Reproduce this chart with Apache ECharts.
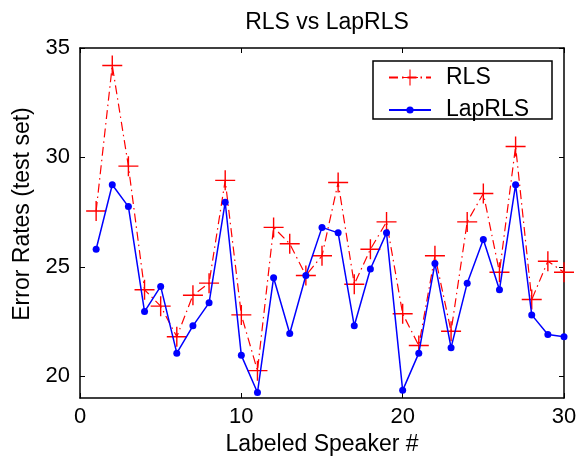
<!DOCTYPE html>
<html><head><meta charset="utf-8">
<script src="https://cdn.jsdelivr.net/npm/echarts@6/dist/echarts.min.js"></script>
<style>html,body{margin:0;padding:0;background:#fff}#c{width:581px;height:461px}</style>
</head><body><div id="c"></div>
<script>
const speakers = [1,2,3,4,5,6,7,8,9,10,11,12,13,14,15,16,17,18,19,20,21,22,23,24,25,26,27,28,29,30];
const rls = [27.55,34.2,29.6,23.95,23.2,21.8,23.7,24.25,28.95,22.8,20.25,26.8,26.05,24.6,25.5,28.85,24.2,25.8,27.05,22.85,21.4,25.5,22.05,27.05,28.35,24.75,30.5,23.5,25.25,24.75];
const laprls = [25.8,28.75,27.75,22.95,24.1,21.05,22.3,23.35,27.95,20.95,19.25,24.5,21.95,24.6,26.8,26.55,22.3,24.9,26.55,19.35,21.05,25.15,21.3,24.25,26.25,23.95,28.75,22.8,21.9,21.8];
const xTicks = [0,10,20,30];
const yTicks = [20,25,30,35];

const font = 'Liberation Sans, Arial, Helvetica, sans-serif';
const plus = 'path://M0,9.3L20,9.3L20,10.7L0,10.7Z M9.3,0L10.7,0L10.7,20L9.3,20Z';
const chart = echarts.init(document.getElementById('c'), null, {renderer:'canvas'});
const axLine = {show:true,onZero:false,lineStyle:{color:'#000',width:1.5}};
const tick = {show:true,inside:true,length:5,lineStyle:{color:'#000',width:1}};
chart.setOption({
  animation:false,
  backgroundColor:'#fff',
  title:{text:'RLS vs LapRLS',left:322,textAlign:'center',top:6,
    textStyle:{fontFamily:font,fontSize:23,fontWeight:'normal',color:'#000'}},
  grid:{left:80,right:17,top:48,bottom:63},
  graphic:[{type:'rect',z:100,shape:{x:373,y:61,width:179,height:58},
    style:{fill:'#fff',stroke:'#000',lineWidth:1.5}}],
  legend:[
    {data:['RLS'],left:388,top:66,itemWidth:42,itemHeight:20,padding:0,z:110,
      textStyle:{fontFamily:font,fontSize:23,color:'#000',padding:[0,0,0,10]}},
    {data:['LapRLS'],left:388,top:98.5,itemWidth:42,itemHeight:9,padding:0,z:110,
      textStyle:{fontFamily:font,fontSize:23,color:'#000',padding:[0,0,0,10]}}
  ],
  xAxis:[
    {type:'value',min:0,max:30,interval:10,position:'bottom',
      name:'Labeled Speaker #',nameLocation:'middle',nameGap:35,
      nameTextStyle:{fontFamily:font,fontSize:23,color:'#000'},
      axisLine:axLine,axisTick:tick,splitLine:{show:false},
      axisLabel:{fontFamily:font,fontSize:22,color:'#000',margin:8}},
    {type:'value',min:0,max:30,interval:10,position:'top',
      axisLine:axLine,axisTick:tick,splitLine:{show:false},axisLabel:{show:false}}
  ],
  yAxis:[
    {type:'value',min:19,max:35,position:'left',
      name:'Error Rates (test set)',nameLocation:'middle',nameGap:43,
      nameTextStyle:{fontFamily:font,fontSize:23,color:'#000',padding:[0,0,0,18]},
      axisLine:axLine,splitLine:{show:false},
      axisTick:{show:true,inside:true,length:5,lineStyle:{color:'#000'},customValues:yTicks},
      axisLabel:{fontFamily:font,fontSize:22,color:'#000',margin:10,customValues:yTicks}},
    {type:'value',min:19,max:35,position:'right',
      axisLine:axLine,splitLine:{show:false},
      axisTick:{show:true,inside:true,length:5,lineStyle:{color:'#000'},customValues:yTicks},
      axisLabel:{show:false}}
  ],
  series:[
    {name:'RLS',type:'line',data:speakers.map((s,i)=>[s,rls[i]]),
      symbol:plus,symbolSize:20,showSymbol:true,
      itemStyle:{color:'#ff0000'},
      lineStyle:{color:'#ff0000',width:1.2,type:[9,4,1.5,4]},z:2},
    {name:'LapRLS',type:'line',data:speakers.map((s,i)=>[s,laprls[i]]),
      symbol:'circle',symbolSize:7,showSymbol:true,
      itemStyle:{color:'#0000ff'},
      lineStyle:{color:'#0000ff',width:1.5},z:3}
  ]
});
</script></body></html>
